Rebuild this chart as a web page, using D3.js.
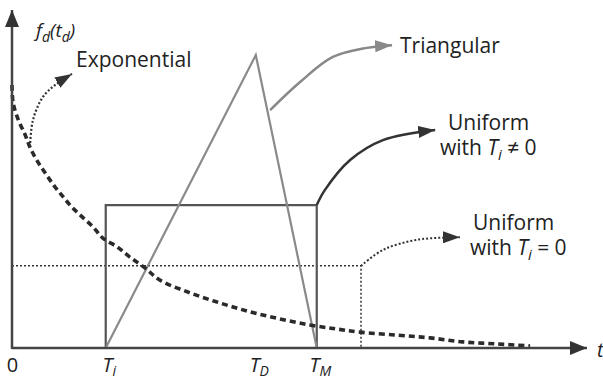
<!DOCTYPE html>
<html>
<head>
<meta charset="utf-8">
<script src="https://cdn.jsdelivr.net/npm/d3@7"></script>
<style>
  html, body { margin: 0; padding: 0; background: #fff; }
  svg { display: block; font-family: "Open Sans", sans-serif; }
</style>
</head>
<body>
<svg id="chart" width="603" height="382"></svg>
<script>
// Time markers on the t axis
const T_I = 16.3, T_D = 42.4, T_M = 53.0, T_U0 = 60.7;
const axisTicks = [
  { t: 0, base: "0", sub: "" },
  { t: T_I, base: "T", sub: "i" },
  { t: T_D, base: "T", sub: "D" },
  { t: T_M, base: "T", sub: "M" }
];

// Density heights
const uniformHeight = 42.3;      // uniform on [T_i, T_M]
const uniformZeroHeight = 24.3;  // uniform on [0, T_U0]
const triangularPeak = 86.7;     // triangular peak at T_D

// Shapes
const uniformPts = [[T_I, 0], [T_I, uniformHeight], [T_M, uniformHeight], [T_M, 0]];
const uniformZeroPts = [[0, uniformZeroHeight], [T_U0, uniformZeroHeight], [T_U0, 0]];
const triangularPts = [[T_I, 0], [T_D, triangularPeak], [T_M, 0]];

// Exponential density, sampled
const expT = [0, 0.2, 1.1, 2.3, 3.1, 4.3, 6.0, 7.5, 8.9, 10.4, 12.2, 14.1, 15.8, 18.3, 20.5,
  23.1, 25.7, 31.0, 36.2, 41.4, 46.6, 51.8, 56.5, 60.5, 67.0, 72.7, 78.4, 84.3, 90.1];
const expV = [77.8, 72.5, 67.5, 63.0, 59.5, 55.6, 51.2, 47.6, 44.7, 41.7, 38.8, 35.8, 32.5, 29.9, 26.9,
  23.7, 20.1, 16.3, 13.3, 10.7, 8.6, 6.8, 5.6, 4.7, 3.8, 3.0, 1.8, 1.2, 0.6];

// Callout leaders (t, f) from each curve to its label
const leaderExp = [[3.13, 59.5], [3.65, 67.5], [5.39, 74.3], [7.48, 77.8], [10.43, 81.1]];
const leaderTri = [[44.9, 70.4], [50.1, 78.7], [55.8, 86.1], [61.7, 88.8], [66.1, 89.6]];
const leaderUni = [[53.0, 42.3], [54.4, 46.7], [58.8, 55.6], [64.5, 61.5], [73.6, 64.5]];
const leaderUni0 = [[60.7, 24.3], [64.5, 29.0], [70.4, 32.0], [77.9, 32.8]];

const svg = d3.select("#chart");
const x = d3.scaleLinear().domain([0, 100]).range([12, 587]);
const y = d3.scaleLinear().domain([0, 100]).range([348, 10]);

const defs = svg.append("defs");
function marker(id, color, len, wid) {
  defs.append("marker")
    .attr("id", id)
    .attr("markerUnits", "userSpaceOnUse")
    .attr("viewBox", `0 0 ${len} ${wid}`)
    .attr("refX", len).attr("refY", wid / 2)
    .attr("markerWidth", len).attr("markerHeight", wid)
    .attr("orient", "auto")
    .append("path")
    .attr("d", `M0,0 L${len},${wid / 2} L0,${wid} Z`)
    .attr("fill", color);
}
marker("axisHead", "#333", 17, 14);
marker("headDark", "#333", 17, 12);
marker("headGray", "#888", 17, 12);

const line = d3.line().x(d => x(d[0])).y(d => y(d[1]));
const smooth = d3.line().x(d => x(d[0])).y(d => y(d[1])).curve(d3.curveCatmullRom.alpha(0.5));

// Uniform with T_i = 0 (dotted)
svg.append("path").attr("d", line(uniformZeroPts))
  .attr("fill", "none").attr("stroke", "#333").attr("stroke-width", 1.5)
  .attr("stroke-dasharray", "2,2");

// Uniform with T_i != 0
svg.append("path").attr("d", line(uniformPts))
  .attr("fill", "none").attr("stroke", "#555").attr("stroke-width", 2.2);

// Triangular
svg.append("path").attr("d", line(triangularPts))
  .attr("fill", "none").attr("stroke", "#8a8a8a").attr("stroke-width", 2.2)
  .attr("stroke-linejoin", "miter");

// Exponential (dashed)
svg.append("path").attr("d", smooth(expT.map((t, i) => [t, expV[i]])))
  .attr("fill", "none").attr("stroke", "#2a2a2a").attr("stroke-width", 3.6)
  .attr("stroke-dasharray", "6,4");

// Axes
const xAxis = d3.axisBottom(x).tickValues(axisTicks.map(d => d.t)).tickSize(0).tickFormat("");
const gx = svg.append("g").attr("transform", `translate(0,${y(0)})`).call(xAxis);
gx.select(".domain").remove();
svg.append("line")
  .attr("x1", x(0)).attr("y1", y(0)).attr("x2", x(100)).attr("y2", y(0))
  .attr("stroke", "#444").attr("stroke-width", 2.5).attr("marker-end", "url(#axisHead)");
svg.append("line")
  .attr("x1", x(0)).attr("y1", y(0) + 1).attr("x2", x(0)).attr("y2", y(100))
  .attr("stroke", "#444").attr("stroke-width", 2.5).attr("marker-end", "url(#axisHead)");

gx.selectAll(".tick").each(function (tv, i) {
  const d = axisTicks[i];
  const txt = d3.select(this).append("text")
    .attr("y", 24).attr("fill", "#222").attr("font-size", 20)
    .attr("text-anchor", "middle")
    .attr("font-family", "'Open Sans', sans-serif");
  if (d.sub) {
    txt.attr("font-style", "italic").attr("dx", 3);
    txt.append("tspan").text(d.base);
    txt.append("tspan").attr("dy", 4).attr("font-size", 14).text(d.sub);
  } else {
    txt.text(d.base);
  }
});

// Axis titles
svg.append("text").attr("x", 597).attr("y", 357)
  .attr("font-size", 20).attr("font-style", "italic").attr("fill", "#222").text("t");
const fLabel = svg.append("text").attr("x", 36).attr("y", 37)
  .attr("font-size", 19).attr("font-style", "italic").attr("fill", "#222");
fLabel.append("tspan").text("f");
fLabel.append("tspan").attr("dy", 5).attr("font-size", 14).text("d");
fLabel.append("tspan").attr("dy", -5).text("(t");
fLabel.append("tspan").attr("dy", 5).attr("font-size", 14).text("d");
fLabel.append("tspan").attr("dy", -5).text(")");

// Leaders
svg.append("path").attr("d", smooth(leaderExp)).attr("fill", "none")
  .attr("stroke", "#333").attr("stroke-width", 2.2).attr("stroke-dasharray", "2,2")
  .attr("marker-end", "url(#headDark)");
svg.append("path").attr("d", smooth(leaderTri)).attr("fill", "none")
  .attr("stroke", "#888").attr("stroke-width", 2.5).attr("marker-end", "url(#headGray)");
svg.append("path").attr("d", smooth(leaderUni)).attr("fill", "none")
  .attr("stroke", "#333").attr("stroke-width", 2.5).attr("marker-end", "url(#headDark)");
svg.append("path").attr("d", smooth(leaderUni0)).attr("fill", "none")
  .attr("stroke", "#333").attr("stroke-width", 2).attr("stroke-dasharray", "2,2")
  .attr("marker-end", "url(#headDark)");

// Labels
function label(xp, yp, parts) {
  const t = svg.append("text").attr("x", xp).attr("y", yp)
    .attr("font-size", 21).attr("fill", "#222");
  parts.forEach(p => {
    const s = t.append("tspan").text(p.text);
    if (p.italic) s.attr("font-style", "italic");
    if (p.sub) s.attr("font-size", 15).attr("dy", 5);
    if (p.up) s.attr("dy", -5);
  });
}
label(76, 67, [{ text: "Exponential" }]);
label(400, 53, [{ text: "Triangular" }]);
label(448, 130, [{ text: "Uniform" }]);
label(440, 155, [{ text: "with " }, { text: "T", italic: true }, { text: "i", italic: true, sub: true }, { text: " \u2260 0", up: true }]);
label(473, 230, [{ text: "Uniform" }]);
label(470, 255, [{ text: "with " }, { text: "T", italic: true }, { text: "i", italic: true, sub: true }, { text: " = 0", up: true }]);
</script>
</body>
</html>
